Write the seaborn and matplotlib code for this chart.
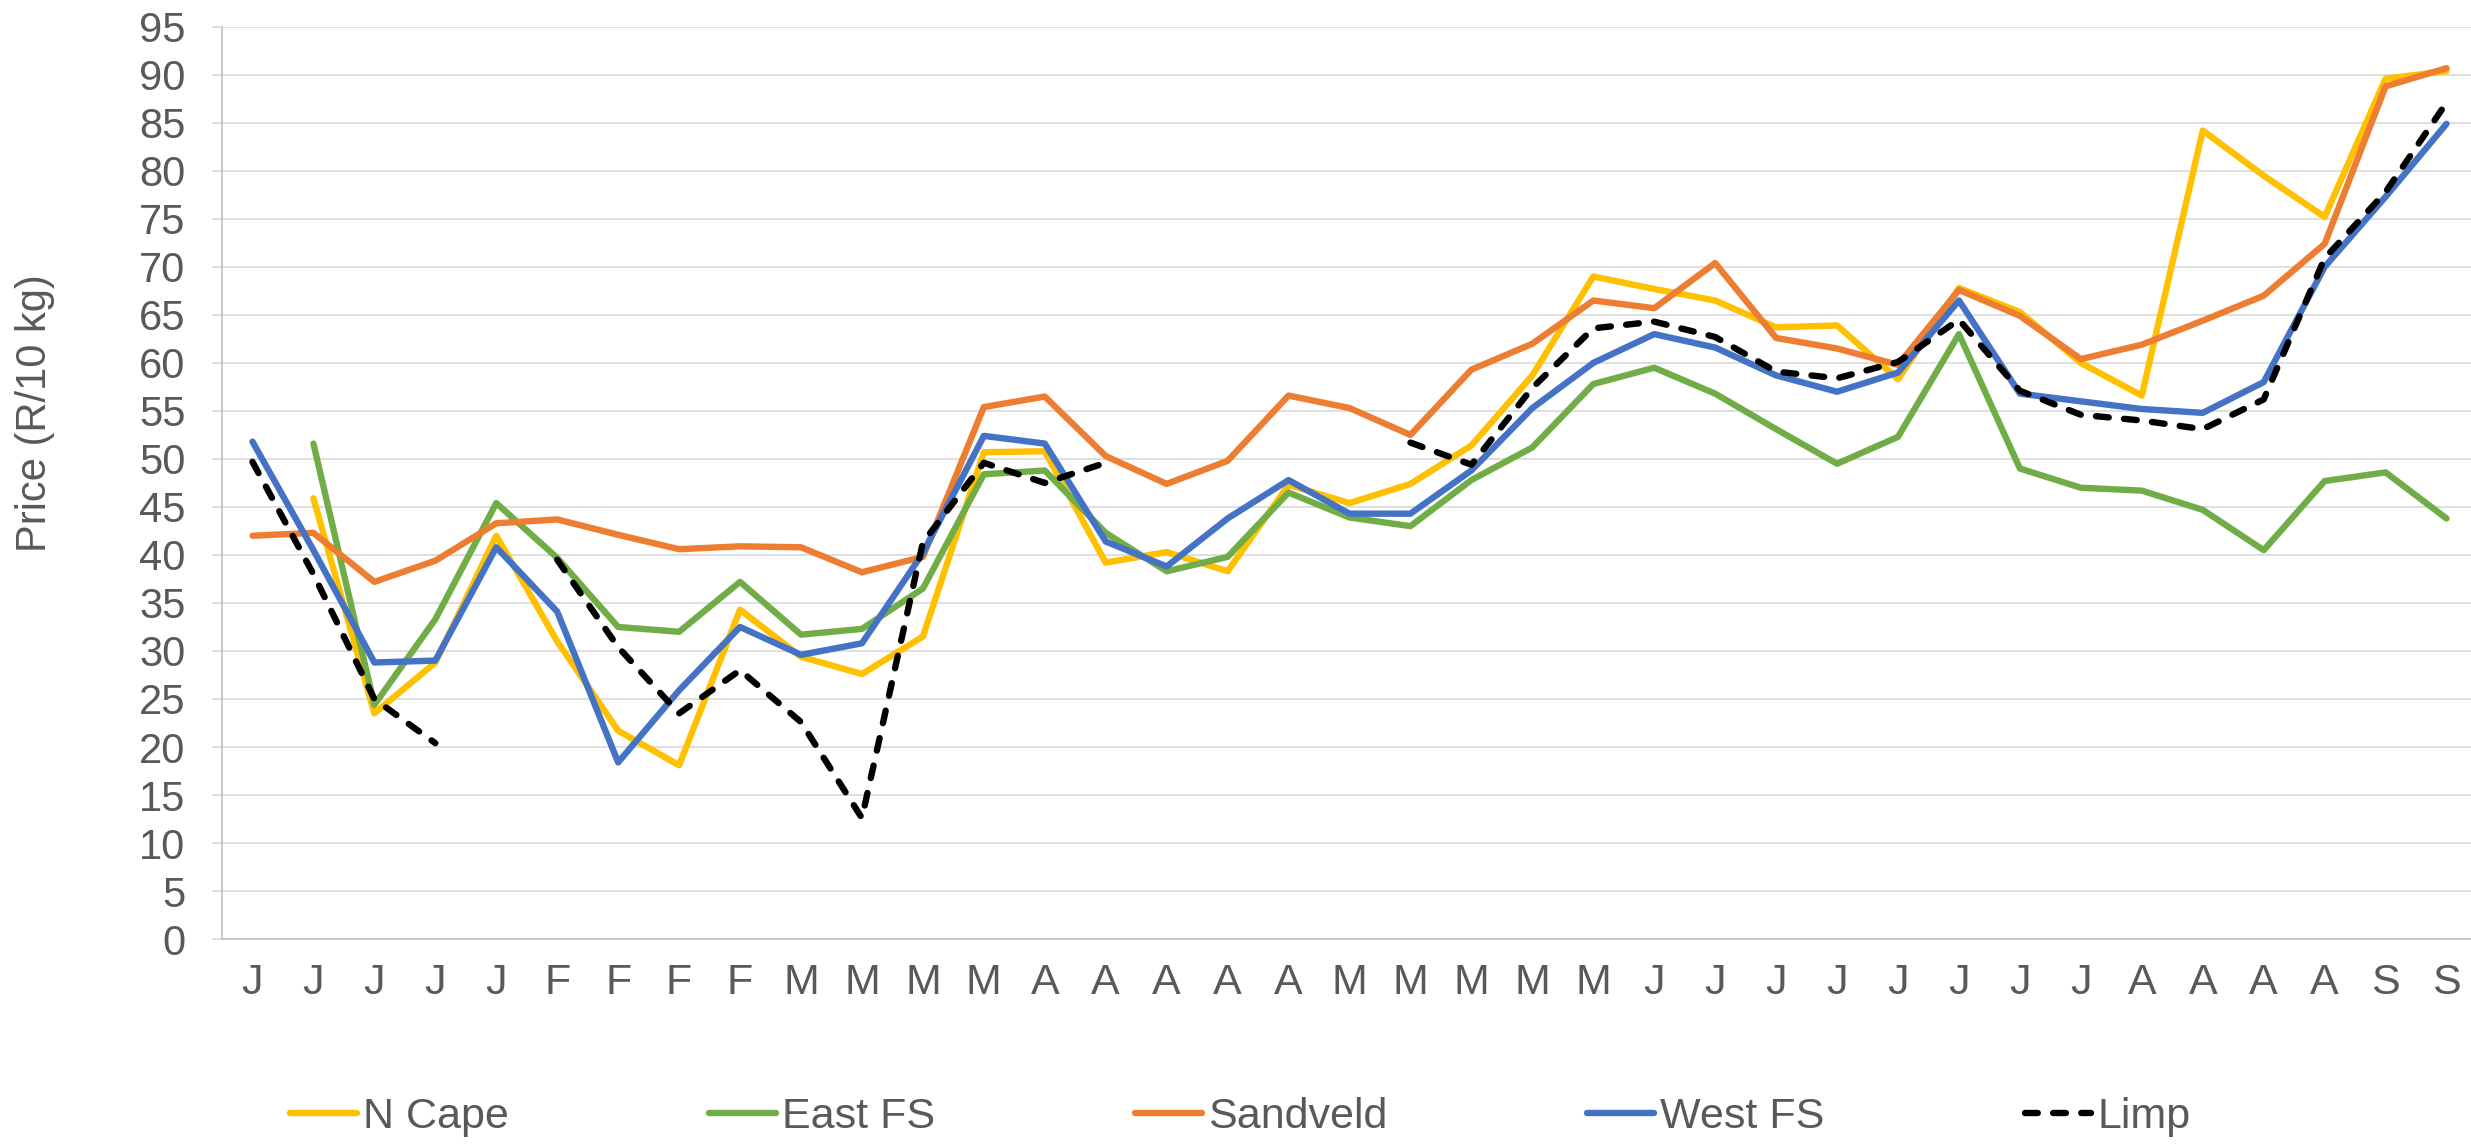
import numpy as np
import pandas as pd
import matplotlib
matplotlib.use("Agg")
import matplotlib.pyplot as plt
from matplotlib.lines import Line2D
import seaborn as sns

# month initials on the x axis (weekly prices)
months = ["J", "J", "J", "J", "J", "F", "F", "F", "F", "M", "M", "M", "M",
          "A", "A", "A", "A", "A", "M", "M", "M", "M", "M",
          "J", "J", "J", "J", "J", "J", "J", "J", "A", "A", "A", "A", "S", "S"]

nan = np.nan
n_cape = [nan, 45.9, 23.5, 28.8, 42.0, 31.0, 21.7, 18.1, 34.3, 29.4, 27.6, 31.5, 50.7,
          50.8, 39.2, 40.3, 38.3, 47.3, 45.4, 47.4, 51.4, 58.7, 69.0, 67.7, 66.5, 63.7,
          63.9, 58.3, 67.8, 65.3, 60.0, 56.6, 84.2, 79.5, 75.2, 89.6, 90.4]
east_fs = [nan, 51.6, 24.4, 33.3, 45.4, 39.7, 32.5, 32.0, 37.2, 31.7, 32.3, 36.5, 48.4,
           48.8, 42.3, 38.3, 39.8, 46.5, 43.9, 43.0, 47.8, 51.2, 57.8, 59.5, 56.8, 53.1,
           49.5, 52.3, 63.0, 49.0, 47.0, 46.7, 44.7, 40.5, 47.7, 48.6, 43.8]
sandveld = [42.0, 42.3, 37.2, 39.4, 43.3, 43.7, 42.1, 40.6, 40.9, 40.8, 38.2, 39.8, 55.4,
            56.5, 50.3, 47.4, 49.8, 56.6, 55.3, 52.5, 59.3, 62.0, 66.5, 65.7, 70.4, 62.6,
            61.5, 59.8, 67.6, 64.9, 60.4, 61.9, 64.4, 67.0, 72.4, 88.8, 90.7]
west_fs = [51.8, 40.5, 28.8, 29.0, 40.8, 34.1, 18.4, 25.9, 32.5, 29.6, 30.8, 40.2, 52.4,
           51.6, 41.4, 38.8, 43.8, 47.8, 44.3, 44.3, 48.8, 55.3, 60.0, 63.0, 61.6, 58.7,
           57.0, 59.0, 66.5, 56.8, 56.0, 55.2, 54.8, 58.0, 70.0, 77.3, 84.9]
limp = [49.7, 38.0, 25.0, 20.4, nan, 39.5, 30.4, 23.5, 28.0, 22.6, 12.6, 41.3, 49.6,
        47.5, 49.6, nan, nan, nan, nan, 51.7, 49.4, 57.4, 63.6, 64.3, 62.7, 59.1,
        58.4, 60.1, 64.5, 57.1, 54.6, 54.0, 53.1, 56.2, 70.9, 77.8, 87.1]

regions = ["N Cape", "East FS", "Sandveld", "West FS", "Limp"]
colors = ["#FFC000", "#70AD47", "#ED7D31", "#4472C4", "#000000"]
palette = dict(zip(regions, colors))
dashes = {"N Cape": "", "East FS": "", "Sandveld": "", "West FS": "", "Limp": (2.0, 2.4)}
lw = 4.6

# long table; gaps in a series split it into separate line units
frames = []
for name, vals in zip(regions, [n_cape, east_fs, sandveld, west_fs, limp]):
    d = pd.DataFrame({"week": np.arange(len(vals)), "price": vals})
    d["seg"] = d["price"].isna().cumsum()
    d = d.dropna()
    d["region"] = name
    d["unit"] = name + "_" + d["seg"].astype(str)
    frames.append(d)
df = pd.concat(frames, ignore_index=True)

sns.set_theme(style="white")
plt.rcParams["font.family"] = ["Liberation Sans", "DejaVu Sans"]
text_col = "#595959"

fig = plt.figure(figsize=(24.71, 11.47), dpi=100)
ax = fig.add_axes([222 / 2471, 0.1813, (2477 - 222) / 2471, 0.9766 - 0.1813])

sns.lineplot(data=df, x="week", y="price", hue="region", style="region",
             units="unit", estimator=None, sort=False,
             hue_order=regions, style_order=regions,
             palette=palette, dashes=dashes, linewidth=lw, legend=False, ax=ax,
             solid_capstyle="round", dash_capstyle="round", solid_joinstyle="round")

ax.set_xlim(-0.5, len(months) - 0.5)
ax.set_ylim(0, 95)
ax.set_yticks(np.arange(0, 96, 5))
ax.set_xticks(np.arange(len(months)))
ax.set_xticklabels(months)
ax.set_xticks(np.arange(-0.5, len(months), 1), minor=True)
ax.set_xlabel("")
ax.set_ylabel("")

ax.grid(axis="y", color="#d9d9d9", linewidth=1.2)
ax.grid(axis="x", visible=False)
ax.set_axisbelow(True)
for side in ["top", "right"]:
    ax.spines[side].set_visible(False)
for side in ["left", "bottom"]:
    ax.spines[side].set_color("#bfbfbf")
    ax.spines[side].set_linewidth(1.2)

ax.tick_params(axis="x", which="major", length=0, pad=17, labelsize=31, labelcolor=text_col)
ax.tick_params(axis="x", which="minor", length=8, width=1.2, color="#bfbfbf", direction="out")
ax.tick_params(axis="y", which="major", length=7.2, width=1.2, color="#d9d9d9",
               pad=19, labelsize=30, labelcolor=text_col, left=True)

fig.text(0.014, 0.64, "Price (R/10 kg)", rotation=90, ha="center", va="center",
         fontsize=30, color=text_col)

handles = []
for name, c in zip(regions, colors):
    ls = (0, dashes[name]) if dashes[name] else "-"
    handles.append(Line2D([], [], color=c, lw=lw, linestyle=ls,
                          solid_capstyle="round", dash_capstyle="round"))
fig.legend(handles, regions, loc="center", bbox_to_anchor=(0.502, 0.0262), ncol=5,
           frameon=False, fontsize=31, handlelength=1.55, handletextpad=0.15,
           columnspacing=4.64, labelcolor=text_col)

fig.savefig("out.png", dpi=100)
